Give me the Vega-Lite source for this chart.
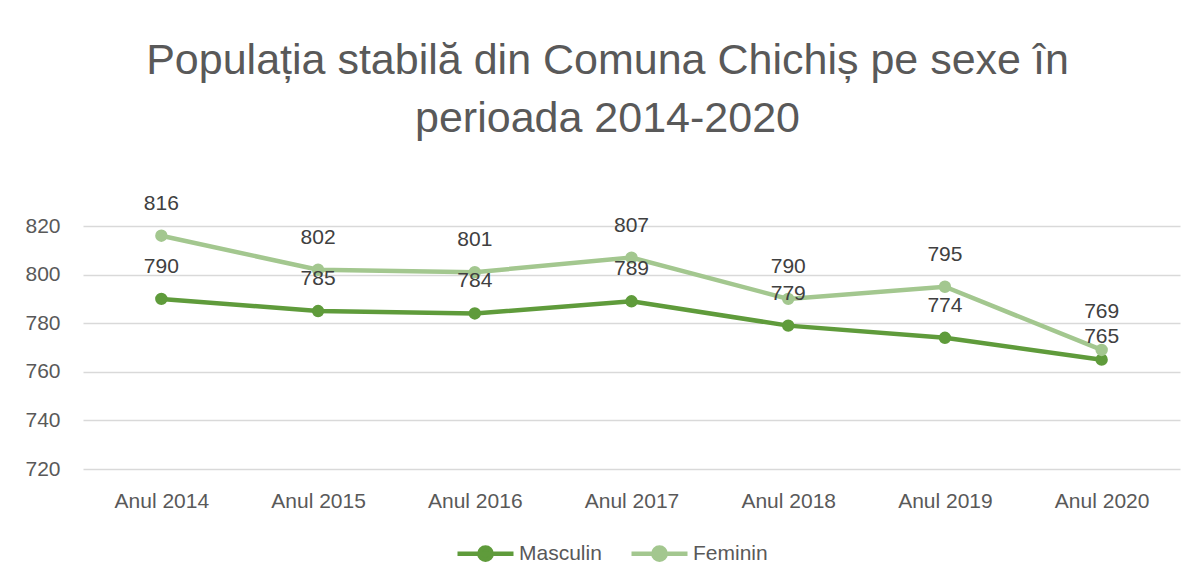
{
  "$schema": "https://vega.github.io/schema/vega-lite/v6.json",
  "width": 1097,
  "height": 243,
  "autosize": {"type": "none"},
  "padding": {"left": 83, "top": 226, "right": 16, "bottom": 115},
  "background": "white",
  "config": {
    "view": {"stroke": null},
    "font": "Liberation Sans"
  },
  "title": {
    "text": ["Populația stabilă din Comuna Chichiș pe sexe în", "perioada 2014-2020"],
    "font": "Liberation Sans",
    "fontSize": 43,
    "fontWeight": "normal",
    "color": "#595959",
    "anchor": "middle",
    "lineHeight": 58,
    "dx": -24,
    "offset": 52
  },
  "data": {
    "values": [
      {"an": "Anul 2014", "sex": "Masculin", "v": 790},
      {"an": "Anul 2015", "sex": "Masculin", "v": 785},
      {"an": "Anul 2016", "sex": "Masculin", "v": 784},
      {"an": "Anul 2017", "sex": "Masculin", "v": 789},
      {"an": "Anul 2018", "sex": "Masculin", "v": 779},
      {"an": "Anul 2019", "sex": "Masculin", "v": 774},
      {"an": "Anul 2020", "sex": "Masculin", "v": 765},
      {"an": "Anul 2014", "sex": "Feminin", "v": 816},
      {"an": "Anul 2015", "sex": "Feminin", "v": 802},
      {"an": "Anul 2016", "sex": "Feminin", "v": 801},
      {"an": "Anul 2017", "sex": "Feminin", "v": 807},
      {"an": "Anul 2018", "sex": "Feminin", "v": 790},
      {"an": "Anul 2019", "sex": "Feminin", "v": 795},
      {"an": "Anul 2020", "sex": "Feminin", "v": 769}
    ]
  },
  "encoding": {
    "x": {
      "field": "an", "type": "nominal", "sort": null,
      "scale": {"type": "point", "padding": 0.5},
      "axis": {
        "title": null, "labelAngle": 0, "domain": false, "ticks": false,
        "labelFontSize": 21, "labelColor": "#595959", "labelPadding": 21,
        "grid": false
      }
    },
    "y": {
      "field": "v", "type": "quantitative",
      "scale": {"domain": [720, 820], "nice": false, "zero": false},
      "axis": {
        "title": null, "values": [720, 740, 760, 780, 800, 820],
        "domain": false, "ticks": false, "labelFontSize": 21,
        "labelColor": "#595959", "labelPadding": 23,
        "gridColor": "#D9D9D9", "gridWidth": 1.5
      }
    },
    "color": {
      "field": "sex", "type": "nominal",
      "scale": {"domain": ["Masculin", "Feminin"], "range": ["#5F9B3B", "#A3C78F"]},
      "legend": {
        "title": null, "orient": "none", "direction": "horizontal",
        "legendX": 372, "legendY": 297,
        "symbolType": "M -1 0 L 1 0 M -0.22 0 A 0.22 0.22 0 1 1 0.22 0 A 0.22 0.22 0 1 1 -0.22 0",
        "symbolSize": 3136, "symbolStrokeWidth": 4.5,
        "labelFontSize": 21, "labelColor": "#595959",
        "labelOffset": 3, "columnPadding": 20
      }
    }
  },
  "layer": [
    {
      "mark": {"type": "line", "strokeWidth": 4.5, "point": {"size": 154, "filled": true}}
    },
    {
      "transform": [{"filter": "datum.an != 'Anul 2020'"}],
      "mark": {"type": "text", "dy": -32, "fontSize": 21, "baseline": "middle"},
      "encoding": {
        "text": {"field": "v", "type": "quantitative"},
        "color": {"value": "#404040"}
      }
    },
    {
      "transform": [{"filter": "datum.an == 'Anul 2020' && datum.sex == 'Feminin'"}],
      "mark": {"type": "text", "dy": -38, "fontSize": 21, "baseline": "middle"},
      "encoding": {
        "text": {"field": "v", "type": "quantitative"},
        "color": {"value": "#404040"}
      }
    },
    {
      "transform": [{"filter": "datum.an == 'Anul 2020' && datum.sex == 'Masculin'"}],
      "mark": {"type": "text", "dy": -23, "fontSize": 21, "baseline": "middle"},
      "encoding": {
        "text": {"field": "v", "type": "quantitative"},
        "color": {"value": "#404040"}
      }
    }
  ]
}
